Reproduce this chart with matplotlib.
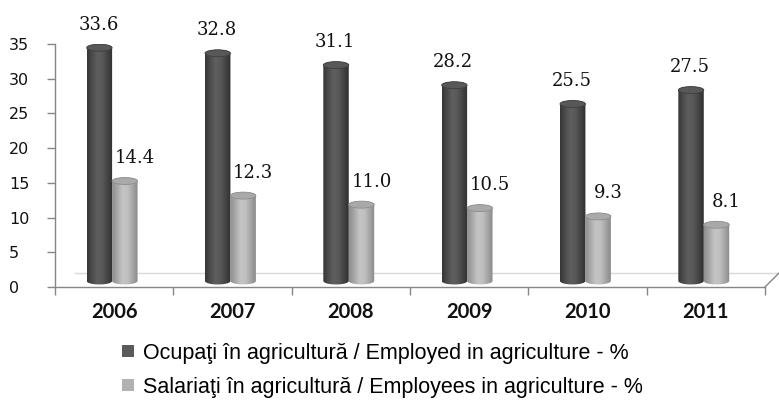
import matplotlib
matplotlib.use('Agg')
import matplotlib.pyplot as plt
import numpy as np
from matplotlib.transforms import ScaledTranslation
from matplotlib.patches import Ellipse, Polygon
from matplotlib.lines import Line2D
from matplotlib.colors import LinearSegmentedColormap

# ---------------- data ----------------
years = ['2006', '2007', '2008', '2009', '2010', '2011']
employed = [33.6, 32.8, 31.1, 28.2, 25.5, 27.5]
employees = [14.4, 12.3, 11.0, 10.5, 9.3, 8.1]
series_labels = ['Ocupaţi în agricultură / Employed in agriculture - %',
                 'Salariaţi în agricultură / Employees in agriculture - %']
yticks = [0, 5, 10, 15, 20, 25, 30, 35]

# ---------------- style ----------------
W, H = 779, 401
fig = plt.figure(figsize=(W / 100, H / 100), dpi=100)
ax = fig.add_axes([55 / W, 1 - 287 / H, (765 - 55) / W, (287 - 44) / H])
ax.set_xlim(-0.5, 5.5)
ax.set_ylim(0, 35)

axis_col = '#868686'
dark_cmap = LinearSegmentedColormap.from_list(
    'd', ['#363636', '#4c4c4c', '#5f5f5f', '#585858', '#444444', '#303030'])
light_cmap = LinearSegmentedColormap.from_list(
    'l', ['#8e8e8e', '#a8a8a8', '#c4c4c4', '#c0c0c0', '#a6a6a6', '#8a8a8a'])
dark_top = '#585858'
light_top = '#a9a9a9'
legend_dark = '#5a5a5a'
legend_light = '#b2b2b2'

# 3D depth shift: bars stand slightly behind the front plane
shift = ScaledTranslation(0, 6 / 100, fig.dpi_scale_trans)
trans = ax.transData + shift

x = np.arange(len(years))
bw = 0.215
off_dark = -0.125
off_light = 0.09

bars_dark = ax.bar(x + off_dark, employed, width=bw, transform=trans,
                   color='none', edgecolor='none', zorder=2)
bars_light = ax.bar(x + off_light, employees, width=bw, transform=trans,
                    color='none', edgecolor='none', zorder=2)

cap_h = 1.0  # ellipse height in data units (~7 px)
grad = np.linspace(0, 1, 64)[np.newaxis, :]


def draw_cylinder(rect, cmap, topcol, edgecol):
    x0 = rect.get_x()
    w = rect.get_width()
    h = rect.get_height()
    xc = x0 + w / 2
    t = np.linspace(np.pi, 2 * np.pi, 40)
    bottom = np.column_stack([xc + w / 2 * np.cos(t), cap_h / 2 * np.sin(t)])
    t2 = np.linspace(0, np.pi, 40)
    top = np.column_stack([xc + w / 2 * np.cos(t2), h + cap_h / 2 * np.sin(t2)])
    sil = Polygon(np.vstack([bottom, top]), closed=True, transform=trans,
                  facecolor='none', edgecolor='none')
    ax.add_patch(sil)
    im = ax.imshow(grad, cmap=cmap, aspect='auto', interpolation='bicubic',
                   extent=(x0, x0 + w, -cap_h, h + cap_h), zorder=3)
    im.set_transform(trans)
    im.set_clip_path(sil)
    ell = Ellipse((xc, h), w, cap_h, transform=trans, facecolor=topcol,
                  edgecolor=edgecol, linewidth=0.6, zorder=4)
    ax.add_patch(ell)


for r in bars_dark:
    draw_cylinder(r, dark_cmap, dark_top, '#3e3e3e')
for r in bars_light:
    draw_cylinder(r, light_cmap, light_top, '#8e8e8e')

ax.set_xlim(-0.5, 5.5)
ax.set_ylim(0, 35)

# value labels
for r, v in zip(bars_dark, employed):
    ax.annotate(f'{v:.1f}', (r.get_x() + r.get_width() / 2, v), xycoords=trans,
                xytext=(-1, 14), textcoords='offset pixels', ha='center',
                va='bottom', fontsize=13, family='DejaVu Serif', color='#111111')
for r, v in zip(bars_light, employees):
    ax.annotate(f'{v:.1f}', (r.get_x() + r.get_width() / 2, v), xycoords=trans,
                xytext=(10, 14), textcoords='offset pixels', ha='center',
                va='bottom', fontsize=13, family='DejaVu Serif', color='#111111')

# floor (back edge and right slant)
floor_shift = ax.transData + ScaledTranslation(0, 14 / 100, fig.dpi_scale_trans)
ax.plot([-0.33, 5.64], [0, 0], transform=floor_shift, color='#d9d9d9',
        lw=1.0, clip_on=False, zorder=1)
fig.add_artist(Line2D([765 / W, 779 / W], [1 - 287 / H, 1 - 273 / H],
                      transform=fig.transFigure, color=axis_col, lw=1.0))

# axes
for s in ['top', 'right']:
    ax.spines[s].set_visible(False)
for s in ['left', 'bottom']:
    ax.spines[s].set_color(axis_col)
    ax.spines[s].set_linewidth(1.0)

ax.set_yticks(yticks)
ax.set_yticklabels([str(v) for v in yticks])
ax.tick_params(axis='y', direction='out', length=6, width=1, color=axis_col,
               labelsize=11.5, pad=27)
for lab in ax.get_yticklabels():
    lab.set_ha('left')
    lab.set_family('DejaVu Sans')
    lab.set_color('#111111')

ax.set_xticks(x)
ax.set_xticklabels(years, fontsize=14.5, fontweight='bold', family='Lato',
                   color='#111111')
ax.set_xticks(np.arange(-0.5, 6.0, 1.0), minor=True)
ax.tick_params(axis='x', which='major', length=0, pad=11)
ax.tick_params(axis='x', which='minor', direction='out', length=6, width=1,
               color=axis_col)

# legend
handles = [Line2D([], [], marker='s', linestyle='none', markersize=8.5,
                  markerfacecolor=legend_dark, markeredgewidth=0),
           Line2D([], [], marker='s', linestyle='none', markersize=8.5,
                  markerfacecolor=legend_light, markeredgewidth=0)]
fig.legend(handles, series_labels, loc='upper left',
           bbox_to_anchor=(118 / W, 1 - 343 / H), frameon=False,
           prop={'family': 'Liberation Sans', 'size': 15.5},
           handlelength=0.9, handletextpad=0.25, labelspacing=0.6,
           borderpad=0, borderaxespad=0)

fig.savefig('out.png', dpi=100, facecolor='white')
